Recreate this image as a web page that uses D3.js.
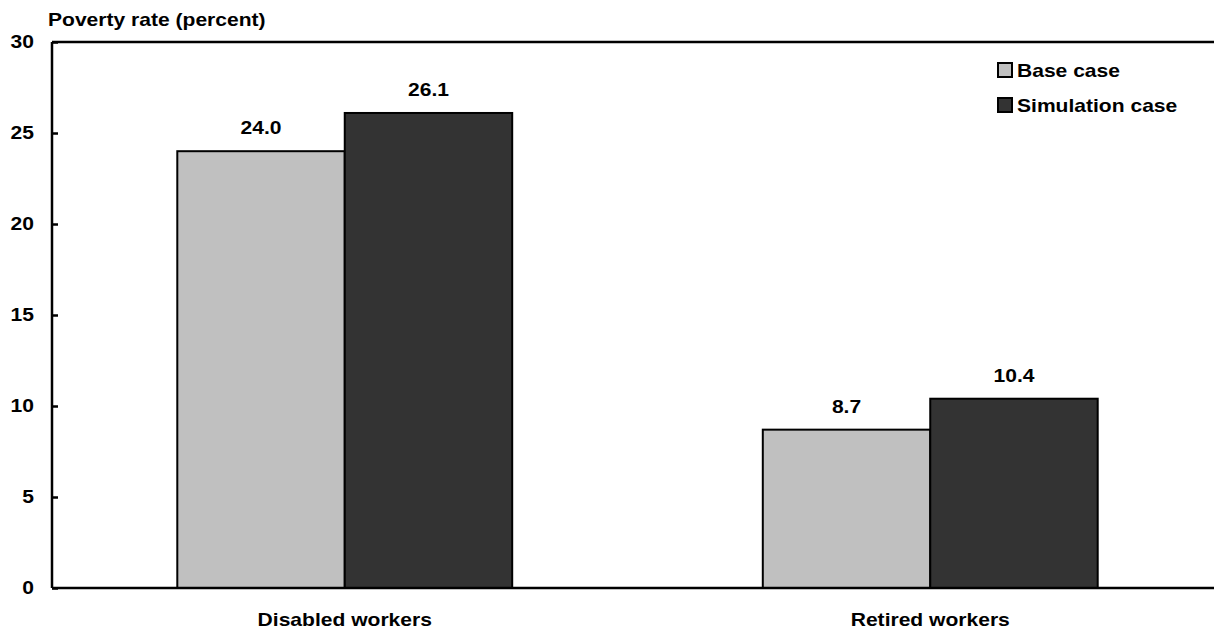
<!DOCTYPE html>
<html>
<head>
<meta charset="utf-8">
<script src="https://cdn.jsdelivr.net/npm/d3@7"></script>
<style>
  html, body { margin: 0; padding: 0; background: #fff; }
  svg { display: block; font-family: "Liberation Sans", Arial, sans-serif; font-weight: bold; }
</style>
</head>
<body>
<svg id="chart" width="1214" height="628"></svg>
<script>
const categories = ["Disabled workers", "Retired workers"];
const seriesNames = ["Base case", "Simulation case"];
const baseValues = [24.0, 8.7];
const simValues = [26.1, 10.4];
const yTicks = [0, 5, 10, 15, 20, 25, 30];
const colors = ["#c0c0c0", "#333333"];

(function () {
const svg = d3.select("#chart");
const pLeft = 52, pRight = 1223, pTop = 42, pBottom = 588;
const SX = 1.17, FS = 18;

function stretchText(sel, x, y, anchor, txt) {
  return sel.append("text")
    .attr("transform", `translate(${x},${y}) scale(${SX},1)`)
    .attr("text-anchor", anchor)
    .attr("font-size", FS)
    .attr("fill", "#000")
    .text(txt);
}

const x0 = d3.scaleBand().domain(categories).range([pLeft, pRight])
  .paddingInner(0.428).paddingOuter(0.214);
const x1 = d3.scaleBand().domain(seriesNames).range([0, x0.bandwidth()]);
const y = d3.scaleLinear().domain([0, 30]).range([pBottom, pTop]);

const data = categories.map((c, i) => ({
  cat: c,
  vals: [{s: seriesNames[0], v: baseValues[i]}, {s: seriesNames[1], v: simValues[i]}]
}));

// Bars
const g = svg.append("g");
data.forEach(d => {
  d.vals.forEach((e, j) => {
    g.append("rect")
      .attr("x", x0(d.cat) + x1(e.s))
      .attr("y", y(e.v))
      .attr("width", x1.bandwidth())
      .attr("height", y(0) - y(e.v))
      .attr("fill", colors[j])
      .attr("stroke", "#000")
      .attr("stroke-width", 2);
    stretchText(g, x0(d.cat) + x1(e.s) + x1.bandwidth() / 2, y(e.v) - 17, "middle", e.v.toFixed(1));
  });
});

// Y axis
const yAxis = d3.axisLeft(y).tickValues(yTicks).tickSize(-6).tickPadding(18);
const ya = svg.append("g").attr("transform", `translate(${pLeft},0)`).call(yAxis);
ya.select(".domain").attr("stroke-width", 2.5).attr("d", `M0,${pTop}V${pBottom}`);
ya.selectAll(".tick line").attr("stroke-width", 2.5);
ya.selectAll(".tick text")
  .attr("font-size", FS).attr("font-weight", "bold")
  .attr("font-family", "Liberation Sans, Arial, sans-serif").attr("fill", "#000")
  .attr("x", -18 / SX)
  .attr("transform", `scale(${SX},1)`);

// Top and bottom frame lines
svg.append("line").attr("x1", pLeft).attr("x2", 1214).attr("y1", pTop).attr("y2", pTop)
  .attr("stroke", "#000").attr("stroke-width", 2.5);
svg.append("line").attr("x1", pLeft).attr("x2", 1214).attr("y1", pBottom).attr("y2", pBottom)
  .attr("stroke", "#000").attr("stroke-width", 2.5);

// Category labels
const xAxis = d3.axisBottom(x0).tickSize(0).tickPadding(25);
const xa = svg.append("g").attr("transform", `translate(0,${pBottom})`).call(xAxis);
xa.select(".domain").remove();
xa.selectAll(".tick text")
  .attr("font-size", FS).attr("font-weight", "bold")
  .attr("font-family", "Liberation Sans, Arial, sans-serif").attr("fill", "#000")
  .attr("transform", `scale(${SX},1)`);

// Y title
stretchText(svg, 48, 26, "start", "Poverty rate (percent)");

// Legend
const lg = svg.append("g").attr("transform", "translate(998,63)");
seriesNames.forEach((s, i) => {
  lg.append("rect").attr("x", 0).attr("y", i * 35).attr("width", 14).attr("height", 14)
    .attr("fill", colors[i]).attr("stroke", "#000").attr("stroke-width", 2);
  stretchText(lg, 19, i * 35 + 14, "start", s);
});
})();
</script>
</body>
</html>
